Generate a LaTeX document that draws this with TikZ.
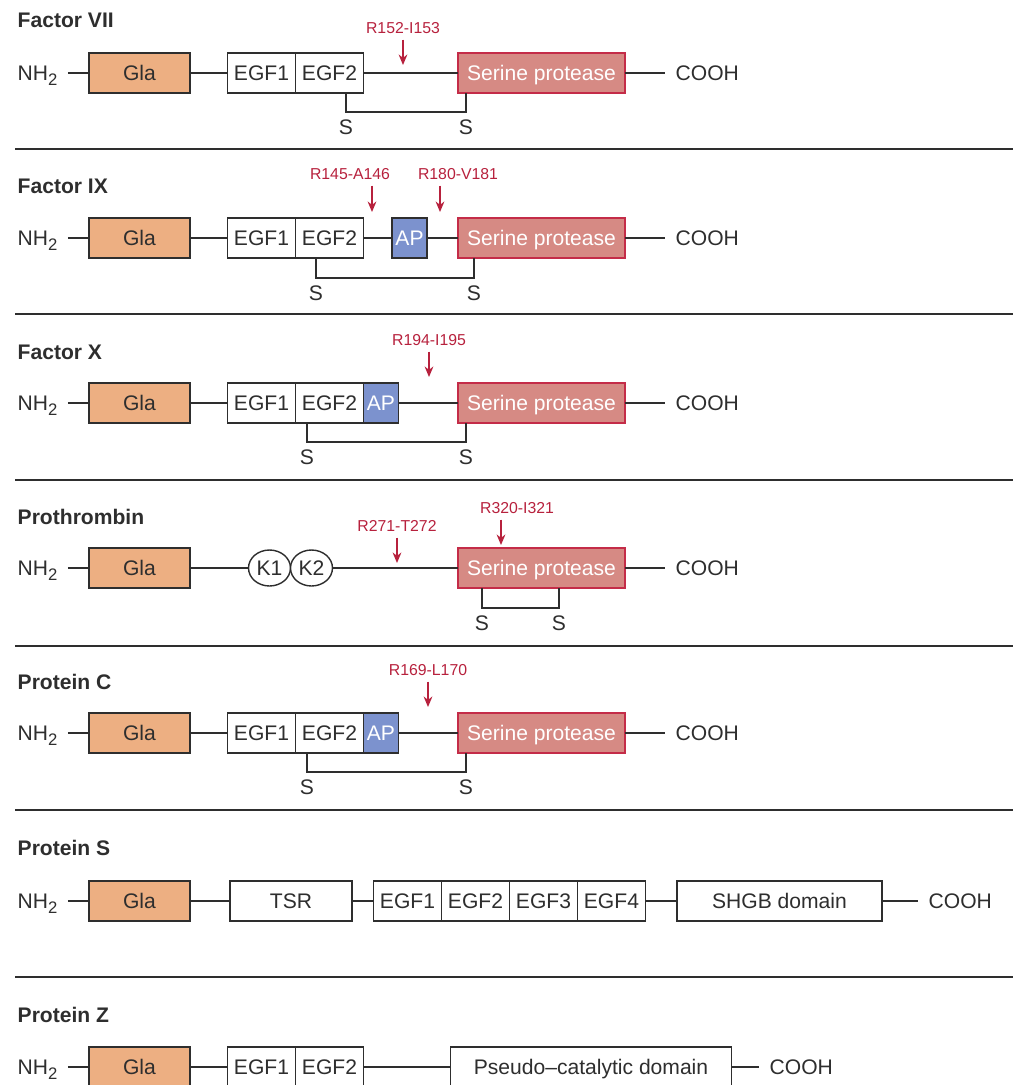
\documentclass[tikz,border=0pt]{standalone}
\usepackage{fontspec}
\setmainfont{Liberation Sans}
\usetikzlibrary{arrows.meta,positioning,shapes.geometric}
\definecolor{glaorange}{HTML}{EDAF82}
\definecolor{serfill}{HTML}{D68A84}
\definecolor{serline}{HTML}{C42C48}
\definecolor{apblue}{HTML}{7C92CE}
\definecolor{cutred}{HTML}{B7213D}
\definecolor{ink}{HTML}{2E2E2E}
\newcommand{\mainfs}{\fontsize{12}{14}\selectfont}
\newcommand{\nhtwo}{NH\raisebox{-3pt}{\fontsize{9.5}{10}\selectfont 2}}
\tikzset{
  dom/.style={draw=ink,fill=white,line width=0.8pt,inner sep=0pt,outer sep=0pt,
    minimum height=0.8cm,minimum width=1.36cm,font=\mainfs,text=ink,
    text height=8.6pt,text depth=0pt},
  gla/.style={dom,fill=glaorange,minimum width=2.02cm},
  ser/.style={dom,draw=serline,fill=serfill,text=white,minimum width=3.34cm},
  ap/.style={dom,fill=apblue,text=white,minimum width=0.7cm},
  kring/.style={ellipse,draw=ink,fill=white,line width=0.8pt,inner sep=0pt,outer sep=0pt,
    minimum width=0.84cm,minimum height=0.72cm,font=\mainfs,text=ink,
    text height=8.6pt,text depth=0pt},
  txt/.style={inner sep=0pt,anchor=base west,font=\mainfs,text=ink},
  ssite/.style={inner sep=4pt,font=\mainfs,text=ink},
  ttl/.style={anchor=west,inner sep=0pt,font=\bfseries\mainfs,text=ink},
  lbl/.style={inner sep=2pt,font=\fontsize{9}{11}\selectfont,text=cutred},
  cut/.style={draw=cutred,line width=0.8pt,shorten <=1pt,-{Stealth[length=6pt,width=5pt]}},
  sep/.style={draw=ink,line width=0.8pt},
  left end/.style={shorten <=5.5pt},
  right end/.style={shorten >=5.5pt}
}

\begin{document}
\begin{tikzpicture}[x=0.02cm,y=-0.02cm,line width=0.8pt,color=ink]
\useasboundingbox (0,0) rectangle (1013,1085);

% Factor VII
\node[ttl] (t1) at (17,20) {Factor VII};
\node[txt] (n1) at (17,80) {\nhtwo};
\node[gla] (g1) at (139.5,73) {Gla};
\node[dom] (e11) at (261.5,73) {EGF1};
\node[dom,right=0pt of e11] (e12) {EGF2};
\node[ser] (p1) at (541.5,73) {Serine protease};
\node[txt] (c1) at (675,80) {COOH};
\node[lbl] (r1) at (403,28) {R152-I153};
\coordinate (a1) at (403,65);
\node[ssite] (s11) at (346,127) {S};
\node[ssite] (s12) at (466,127) {S};
\draw[left end] (n1.east |- g1) -- (g1);
\draw (g1) -- (e11) (e12) -- (p1);
\draw[right end] (p1) -- (c1.west |- p1);
\draw[cut] (r1.south -| a1) -- (a1);
\draw (s11.north |- e12.south) -- (s11.north) -- (s12.north) -- (s12.north |- p1.south);
\draw[sep] (15,149) -- (1013,149);

% Factor IX
\node[ttl] (t2) at (17,186) {Factor IX};
\node[txt] (n2) at (17,245) {\nhtwo};
\node[gla] (g2) at (139.5,238) {Gla};
\node[dom] (e21) at (261.5,238) {EGF1};
\node[dom,right=0pt of e21] (e22) {EGF2};
\node[ap] (ap2) at (409.5,238) {AP};
\node[ser] (p2) at (541.5,238) {Serine protease};
\node[txt] (c2) at (675,245) {COOH};
\node[lbl] (r21) at (350,174) {R145-A146};
\node[lbl] (r22) at (458,174) {R180-V181};
\coordinate (a21) at (372,212);
\coordinate (a22) at (440,212);
\node[ssite] (s21) at (316,293) {S};
\node[ssite] (s22) at (474,293) {S};
\draw[left end] (n2.east |- g2) -- (g2);
\draw (g2) -- (e21) (e22) -- (ap2) (ap2) -- (p2);
\draw[right end] (p2) -- (c2.west |- p2);
\draw[cut] (r21.south -| a21) -- (a21);
\draw[cut] (r22.south -| a22) -- (a22);
\draw (s21.north |- e22.south) -- (s21.north) -- (s22.north) -- (s22.north |- p2.south);
\draw[sep] (15,314) -- (1013,314);

% Factor X
\node[ttl] (t3) at (17,352) {Factor X};
\node[txt] (n3) at (17,410) {\nhtwo};
\node[gla] (g3) at (139.5,403) {Gla};
\node[dom] (e31) at (261.5,403) {EGF1};
\node[dom,right=0pt of e31] (e32) {EGF2};
\node[ap,right=0pt of e32] (ap3) {AP};
\node[ser] (p3) at (541.5,403) {Serine protease};
\node[txt] (c3) at (675,410) {COOH};
\node[lbl] (r3) at (429,340) {R194-I195};
\coordinate (a3) at (429,377);
\node[ssite] (s31) at (307,457) {S};
\node[ssite] (s32) at (466,457) {S};
\draw[left end] (n3.east |- g3) -- (g3);
\draw (g3) -- (e31) (ap3) -- (p3);
\draw[right end] (p3) -- (c3.west |- p3);
\draw[cut] (r3.south -| a3) -- (a3);
\draw (s31.north |- e32.south) -- (s31.north) -- (s32.north) -- (s32.north |- p3.south);
\draw[sep] (15,480) -- (1013,480);

% Prothrombin
\node[ttl] (t4) at (17,517) {Prothrombin};
\node[txt] (n4) at (17,575) {\nhtwo};
\node[gla] (g4) at (139.5,568) {Gla};
\node[kring] (k41) at (269.5,568) {K1};
\node[kring,right=0pt of k41] (k42) {K2};
\node[ser] (p4) at (541.5,568) {Serine protease};
\node[txt] (c4) at (675,575) {COOH};
\node[lbl] (r41) at (397,526) {R271-T272};
\node[lbl] (r42) at (517,508) {R320-I321};
\coordinate (a41) at (397,563);
\coordinate (a42) at (501,545);
\node[ssite] (s41) at (482,623) {S};
\node[ssite] (s42) at (559,623) {S};
\draw[left end] (n4.east |- g4) -- (g4);
\draw (g4) -- (k41) (k42) -- (p4);
\draw[right end] (p4) -- (c4.west |- p4);
\draw[cut] (r41.south -| a41) -- (a41);
\draw[cut] (r42.south -| a42) -- (a42);
\draw (s41.north |- p4.south) -- (s41.north) -- (s42.north) -- (s42.north |- p4.south);
\draw[sep] (15,646) -- (1013,646);

% Protein C
\node[ttl] (t5) at (17,682) {Protein C};
\node[txt] (n5) at (17,740) {\nhtwo};
\node[gla] (g5) at (139.5,733) {Gla};
\node[dom] (e51) at (261.5,733) {EGF1};
\node[dom,right=0pt of e51] (e52) {EGF2};
\node[ap,right=0pt of e52] (ap5) {AP};
\node[ser] (p5) at (541.5,733) {Serine protease};
\node[txt] (c5) at (675,740) {COOH};
\node[lbl] (r5) at (428,670) {R169-L170};
\coordinate (a5) at (428,707);
\node[ssite] (s51) at (307,787) {S};
\node[ssite] (s52) at (466,787) {S};
\draw[left end] (n5.east |- g5) -- (g5);
\draw (g5) -- (e51) (ap5) -- (p5);
\draw[right end] (p5) -- (c5.west |- p5);
\draw[cut] (r5.south -| a5) -- (a5);
\draw (s51.north |- e52.south) -- (s51.north) -- (s52.north) -- (s52.north |- p5.south);
\draw[sep] (15,810) -- (1013,810);

% Protein S
\node[ttl] (t6) at (17,848) {Protein S};
\node[txt] (n6) at (17,908) {\nhtwo};
\node[gla] (g6) at (139.5,901) {Gla};
\node[dom,minimum width=2.44cm] (tsr6) at (291,901) {TSR};
\node[dom] (e61) at (407.5,901) {EGF1};
\node[dom,right=0pt of e61] (e62) {EGF2};
\node[dom,right=0pt of e62] (e63) {EGF3};
\node[dom,right=0pt of e63] (e64) {EGF4};
\node[dom,minimum width=4.1cm] (sh6) at (779.5,901) {SHGB domain};
\node[txt] (c6) at (928,908) {COOH};
\draw[left end] (n6.east |- g6) -- (g6);
\draw (g6) -- (tsr6) (tsr6) -- (e61) (e64) -- (sh6);
\draw[right end] (sh6) -- (c6.west |- sh6);
\draw[sep] (15,977) -- (1013,977);

% Protein Z
\node[ttl] (t7) at (17,1015) {Protein Z};
\node[txt] (n7) at (17,1074) {\nhtwo};
\node[gla] (g7) at (139.5,1067) {Gla};
\node[dom] (e71) at (261.5,1067) {EGF1};
\node[dom,right=0pt of e71] (e72) {EGF2};
\node[dom,minimum width=5.62cm] (pz7) at (591,1067) {Pseudo\textendash catalytic domain};
\node[txt] (c7) at (769,1074) {COOH};
\draw[left end] (n7.east |- g7) -- (g7);
\draw (g7) -- (e71) (e72) -- (pz7);
\draw[right end] (pz7) -- (c7.west |- pz7);
\end{tikzpicture}
\end{document}
